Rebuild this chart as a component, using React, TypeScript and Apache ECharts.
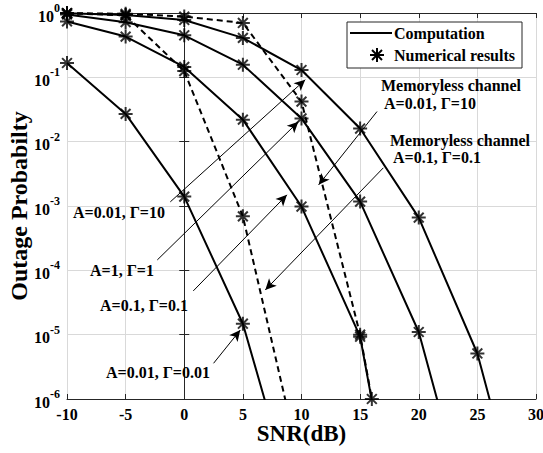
import React, { useEffect, useRef } from "react";
import * as echarts from "echarts";

// ---- data ----
const snrDb = [-10, -5, 0, 5, 10, 15, 20, 25, 30];
const snrDbMemorylessHigh = [-10, -5, 0, 5, 10, 15, 16];

const pOutA001G001 = [0.167, 0.027, 1.4e-3, 1.48e-5, 1e-8];
const pOutA01G01 = [0.74, 0.43, 0.145, 0.022, 9.8e-4, 9.3e-6, 1e-10];
const pOutA1G1 = [0.95, 0.72, 0.45, 0.157, 0.023, 1.17e-3, 1.1e-5, 5e-9];
const pOutA001G10 = [0.99, 0.93, 0.78, 0.41, 0.13, 0.016, 6.6e-4, 5.1e-6, 2e-9];
const pOutMemorylessA01G01 = [0.99, 0.92, 0.125, 6.9e-4, 8e-8];
const pOutMemorylessA001G10 = [1.0, 0.97, 0.88, 0.7, 0.042, 1.0e-5, 1.0e-6];

const xTickMin = -10;
const xTickMax = 30;
const yMin = 1e-6;
const yMax = 1;

// annotation arrows in data coordinates: [fromSNR, fromP, toSNR, toP]
const arrowA001G10 = [-1.19, 1.16e-3, 10.32, 0.0917];
const arrowA1G1 = [-2.3, 1.45e-4, 9.73, 0.0204];
const arrowA01G01 = [0.77, 4.79e-5, 8.76, 1.49e-3];
const arrowA001G001 = [2.5, 3.59e-6, 4.78, 1.18e-5];
const arrowMemA001G10 = [16.44, 0.0294, 11.46, 2.13e-3];
const arrowMemA01G01 = [16.98, 3.92e-3, 6.91, 4.95e-5];

const FONT = '"Liberation Serif", "Times New Roman", serif';
const AX = "#262626";
const STAR = "path://M0,-10L0,10M-10,0L10,0M-7,-7L7,7M-7,7L7,-7";

export default function App() {
  const ref = useRef<HTMLDivElement>(null);

  useEffect(() => {
    if (!ref.current) return;
    const chart = echarts.init(ref.current, null, { renderer: "svg" });

    const curves = [
      { x: snrDb, y: pOutA001G001, dashed: false },
      { x: snrDb, y: pOutA01G01, dashed: false },
      { x: snrDb, y: pOutA1G1, dashed: false },
      { x: snrDb, y: pOutA001G10, dashed: false },
      { x: snrDb, y: pOutMemorylessA01G01, dashed: true },
      { x: snrDbMemorylessHigh, y: pOutMemorylessA001G10, dashed: true },
    ];

    const series: any[] = [];
    curves.forEach((c) => {
      const pts = c.y.map((v, i) => [c.x[i], v]);
      series.push({
        type: "line",
        name: "Computation",
        data: pts,
        showSymbol: false,
        symbol: "none",
        clip: true,
        lineStyle: { color: "#000", width: 2, type: c.dashed ? [6, 4] : "solid" },
        z: 3,
      });
      series.push({
        type: "scatter",
        name: "Numerical results",
        data: pts.filter((p) => p[1] >= yMin),
        symbol: STAR,
        symbolSize: 14,
        clip: false,
        itemStyle: { color: "#000", borderColor: "#000", borderWidth: 2 },
        z: 4,
      });
    });

    const arrows = [
      arrowA001G10,
      arrowA1G1,
      arrowA01G01,
      arrowA001G001,
      arrowMemA001G10,
      arrowMemA01G01,
    ];
    series.push({
      type: "line",
      name: "annotations",
      data: [],
      itemStyle: { color: "#000" },
      markLine: {
        silent: true,
        symbol: ["none", "arrow"],
        symbolSize: [8, 11],
        label: { show: false },
        itemStyle: { color: "#000" },
        lineStyle: { color: "#000", width: 1, type: "solid" },
        emphasis: { disabled: true },
        data: arrows.map((a) => [
          { coord: [a[0], a[1]] },
          { coord: [a[2], a[3]] },
        ]),
      },
    });

    const txt = (text: string, x: number, y: number) => ({
      type: "text",
      z: 100,
      style: {
        text,
        x,
        y,
        font: `bold 16px ${FONT}`,
        fill: "#000",
        textAlign: "left",
        textVerticalAlign: "middle",
      },
    });

    const starCx = 377;
    const starCy = 55;
    const r = 7;
    const d = 5;

    const option: any = {
      animation: false,
      backgroundColor: "#fff",
      grid: {
        left: 67,
        right: 7,
        top: 13,
        bottom: 54,
        containLabel: false,
        outerBoundsMode: "none",
      },
      xAxis: [
        {
          type: "value",
          min: xTickMin,
          max: xTickMax,
          interval: 5,
          name: "SNR(dB)",
          nameLocation: "middle",
          nameGap: 23,
          nameMoveOverlap: false,
          nameTextStyle: { fontFamily: FONT, fontWeight: "bold", fontSize: 23, color: "#000" },
          axisLine: { show: true, lineStyle: { color: AX, width: 1 } },
          axisTick: { show: true, inside: true, length: 5, lineStyle: { color: AX } },
          axisLabel: { fontFamily: FONT, fontWeight: "bold", fontSize: 16, color: "#000", margin: 7 },
          splitLine: { show: true, lineStyle: { color: "#d9d9d9", width: 1 } },
        },
        {
          type: "value",
          position: "top",
          min: xTickMin,
          max: xTickMax,
          interval: 5,
          axisLine: { show: true, lineStyle: { color: AX, width: 1 } },
          axisTick: { show: true, inside: true, length: 5, lineStyle: { color: AX } },
          axisLabel: { show: false },
          splitLine: { show: false },
        },
      ],
      yAxis: [
        {
          type: "log",
          logBase: 10,
          min: yMin,
          max: yMax,
          interval: 1,
          name: "Outage Probabilty",
          nameLocation: "middle",
          nameGap: 36,
          nameMoveOverlap: false,
          nameTextStyle: { fontFamily: FONT, fontWeight: "bold", fontSize: 24, color: "#000" },
          axisLine: { show: true, lineStyle: { color: AX, width: 1 } },
          axisTick: { show: true, inside: true, length: 5, lineStyle: { color: AX } },
          axisLabel: {
            margin: 7,
            formatter: (v: number) => {
              const e = Math.round(Math.log10(v));
              return `{b|10}{s|${e}}`;
            },
            rich: {
              b: { fontFamily: FONT, fontWeight: "bold", fontSize: 16, color: "#000", padding: [6, 0, 0, 0] },
              s: { fontFamily: FONT, fontWeight: "bold", fontSize: 12, color: "#000", verticalAlign: "top" },
            },
          },
          splitLine: { show: true, lineStyle: { color: "#d9d9d9", width: 1 } },
        },
        {
          type: "log",
          logBase: 10,
          position: "right",
          min: yMin,
          max: yMax,
          interval: 1,
          axisLine: { show: true, lineStyle: { color: AX, width: 1 } },
          axisTick: { show: true, inside: true, length: 5, lineStyle: { color: AX } },
          axisLabel: { show: false },
          splitLine: { show: false },
        },
      ],
      series,
      graphic: [
        {
          type: "rect",
          z: 100,
          shape: { x: 347, y: 22, width: 175, height: 46 },
          style: { fill: "#fff", stroke: AX, lineWidth: 1 },
        },
        {
          type: "line",
          z: 101,
          shape: { x1: 350, y1: 33, x2: 392, y2: 33 },
          style: { stroke: "#000", lineWidth: 2 },
        },
        { type: "line", z: 101, shape: { x1: starCx - r, y1: starCy, x2: starCx + r, y2: starCy }, style: { stroke: "#000", lineWidth: 2 } },
        { type: "line", z: 101, shape: { x1: starCx, y1: starCy - r, x2: starCx, y2: starCy + r }, style: { stroke: "#000", lineWidth: 2 } },
        { type: "line", z: 101, shape: { x1: starCx - d, y1: starCy - d, x2: starCx + d, y2: starCy + d }, style: { stroke: "#000", lineWidth: 2 } },
        { type: "line", z: 101, shape: { x1: starCx - d, y1: starCy + d, x2: starCx + d, y2: starCy - d }, style: { stroke: "#000", lineWidth: 2 } },
        { ...txt("Computation", 394, 33), z: 101 },
        { ...txt("Numerical results", 394, 55), z: 101 },
        txt("A=0.01, \u0393=10", 73, 212),
        txt("A=1, \u0393=1", 90, 270),
        txt("A=0.1, \u0393=0.1", 100, 305),
        txt("A=0.01, \u0393=0.01", 106, 372),
        txt("Memoryless channel", 381, 85),
        txt("A=0.01, \u0393=10", 384, 103),
        txt("Memoryless channel", 390, 140),
        txt("A=0.1, \u0393=0.1", 393, 157),
      ],
    };

    chart.setOption(option);
    return () => chart.dispose();
  }, []);

  return (
    <div
      ref={ref}
      style={{ position: "fixed", left: 0, top: 0, width: 543, height: 453, background: "#fff" }}
    />
  );
}
